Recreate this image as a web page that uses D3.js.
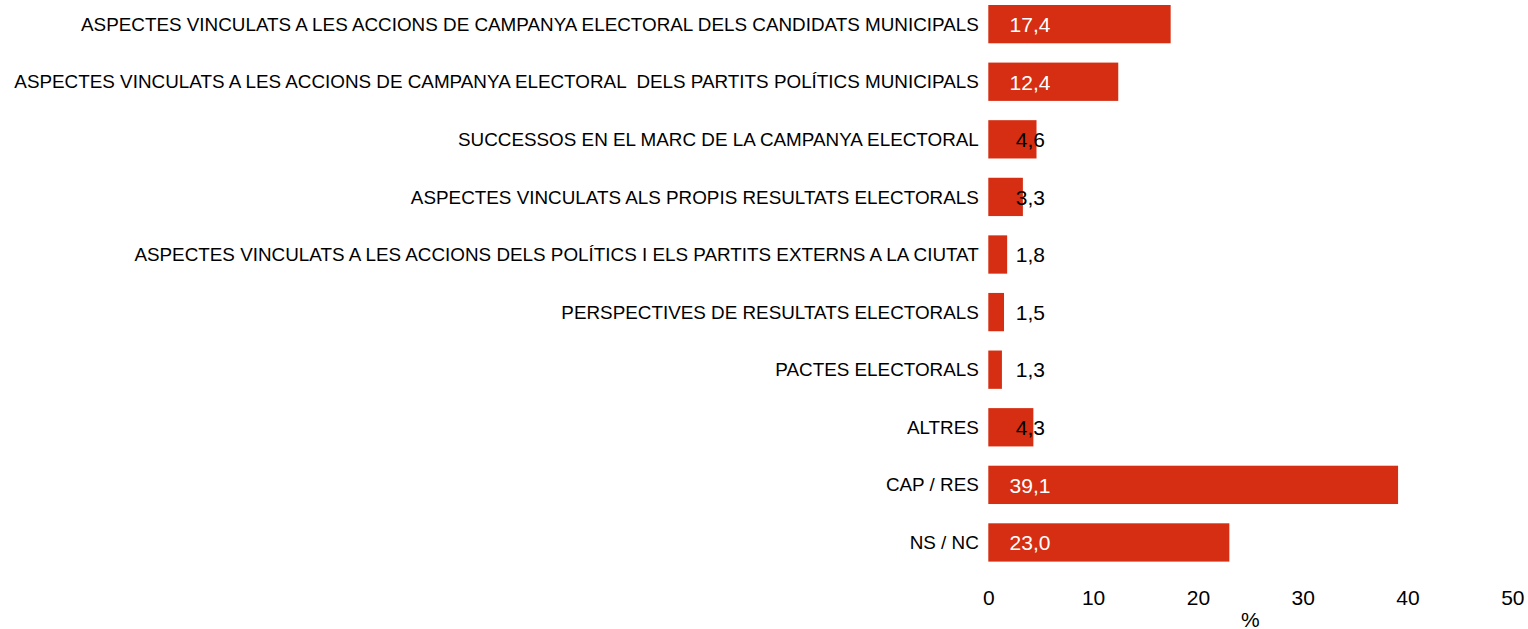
<!DOCTYPE html>
<html>
<head>
<meta charset="utf-8">
<script src="https://cdn.jsdelivr.net/npm/d3@7"></script>
<style>
  html, body { margin: 0; padding: 0; background: #fff; }
  svg { display: block; font-family: "Liberation Sans", Arial, sans-serif; }
  text { white-space: pre; }
</style>
</head>
<body>
<svg id="chart" width="1528" height="629"></svg>
<script>
const categories = [
  "ASPECTES VINCULATS A LES ACCIONS DE CAMPANYA ELECTORAL DELS CANDIDATS MUNICIPALS",
  "ASPECTES VINCULATS A LES ACCIONS DE CAMPANYA ELECTORAL  DELS PARTITS POLÍTICS MUNICIPALS",
  "SUCCESSOS EN EL MARC DE LA CAMPANYA ELECTORAL",
  "ASPECTES VINCULATS ALS PROPIS RESULTATS ELECTORALS",
  "ASPECTES VINCULATS A LES ACCIONS DELS POLÍTICS I ELS PARTITS EXTERNS A LA CIUTAT",
  "PERSPECTIVES DE RESULTATS ELECTORALS",
  "PACTES ELECTORALS",
  "ALTRES",
  "CAP / RES",
  "NS / NC"
];
const values = [17.4, 12.4, 4.6, 3.3, 1.8, 1.5, 1.3, 4.3, 39.1, 23.0];
const xTicks = [0, 10, 20, 30, 40, 50];
const xTitle = "%";

const svg = d3.select("#chart");
const barColor = "#D52E12";

const x = d3.scaleLinear().domain([0, 50]).range([988.3, 1512.3]);
const y = d3.scaleBand()
  .domain(categories)
  .range([-4.65, 571.25])
  .paddingInner(0.335)
  .paddingOuter(0.1675);

// bars
svg.append("g").selectAll("rect")
  .data(values)
  .join("rect")
  .attr("x", x(0))
  .attr("y", (d, i) => y(categories[i]))
  .attr("width", d => x(d) - x(0))
  .attr("height", y.bandwidth())
  .attr("fill", barColor);

// category labels
svg.append("g").selectAll("text")
  .data(categories)
  .join("text")
  .attr("x", x(0) - 9.5)
  .attr("y", d => y(d) + y.bandwidth() / 2)
  .attr("dy", "0.35em")
  .attr("text-anchor", "end")
  .attr("font-size", "18.85px")
  .attr("fill", "#000")
  .text(d => d);

// value labels
const fmt = v => v.toFixed(1).replace(".", ",");
svg.append("g").selectAll("text")
  .data(values)
  .join("text")
  .attr("x", d => d > 10 ? x(0) + 21.3 : x(0) + 27.5)
  .attr("y", (d, i) => y(categories[i]) + y.bandwidth() / 2)
  .attr("dy", "0.37em")
  .attr("font-size", "21px")
  .attr("fill", d => d > 10 ? "#fff" : "#000")
  .text(fmt);

// x axis
const xAxis = d3.axisBottom(x).tickValues(xTicks).tickSize(0).tickPadding(0).tickFormat(d => d);
const gx = svg.append("g").attr("transform", "translate(0,590)").call(xAxis);
gx.select(".domain").remove();
gx.selectAll("text")
  .attr("font-size", "21px")
  .attr("font-family", "Liberation Sans, Arial, sans-serif")
  .attr("fill", "#000")
  .attr("dy", "0.71em");

svg.append("text")
  .attr("x", (x(0) + x(50)) / 2)
  .attr("y", 626.5)
  .attr("text-anchor", "middle")
  .attr("font-size", "21px")
  .attr("fill", "#000")
  .text(xTitle);
</script>
</body>
</html>
